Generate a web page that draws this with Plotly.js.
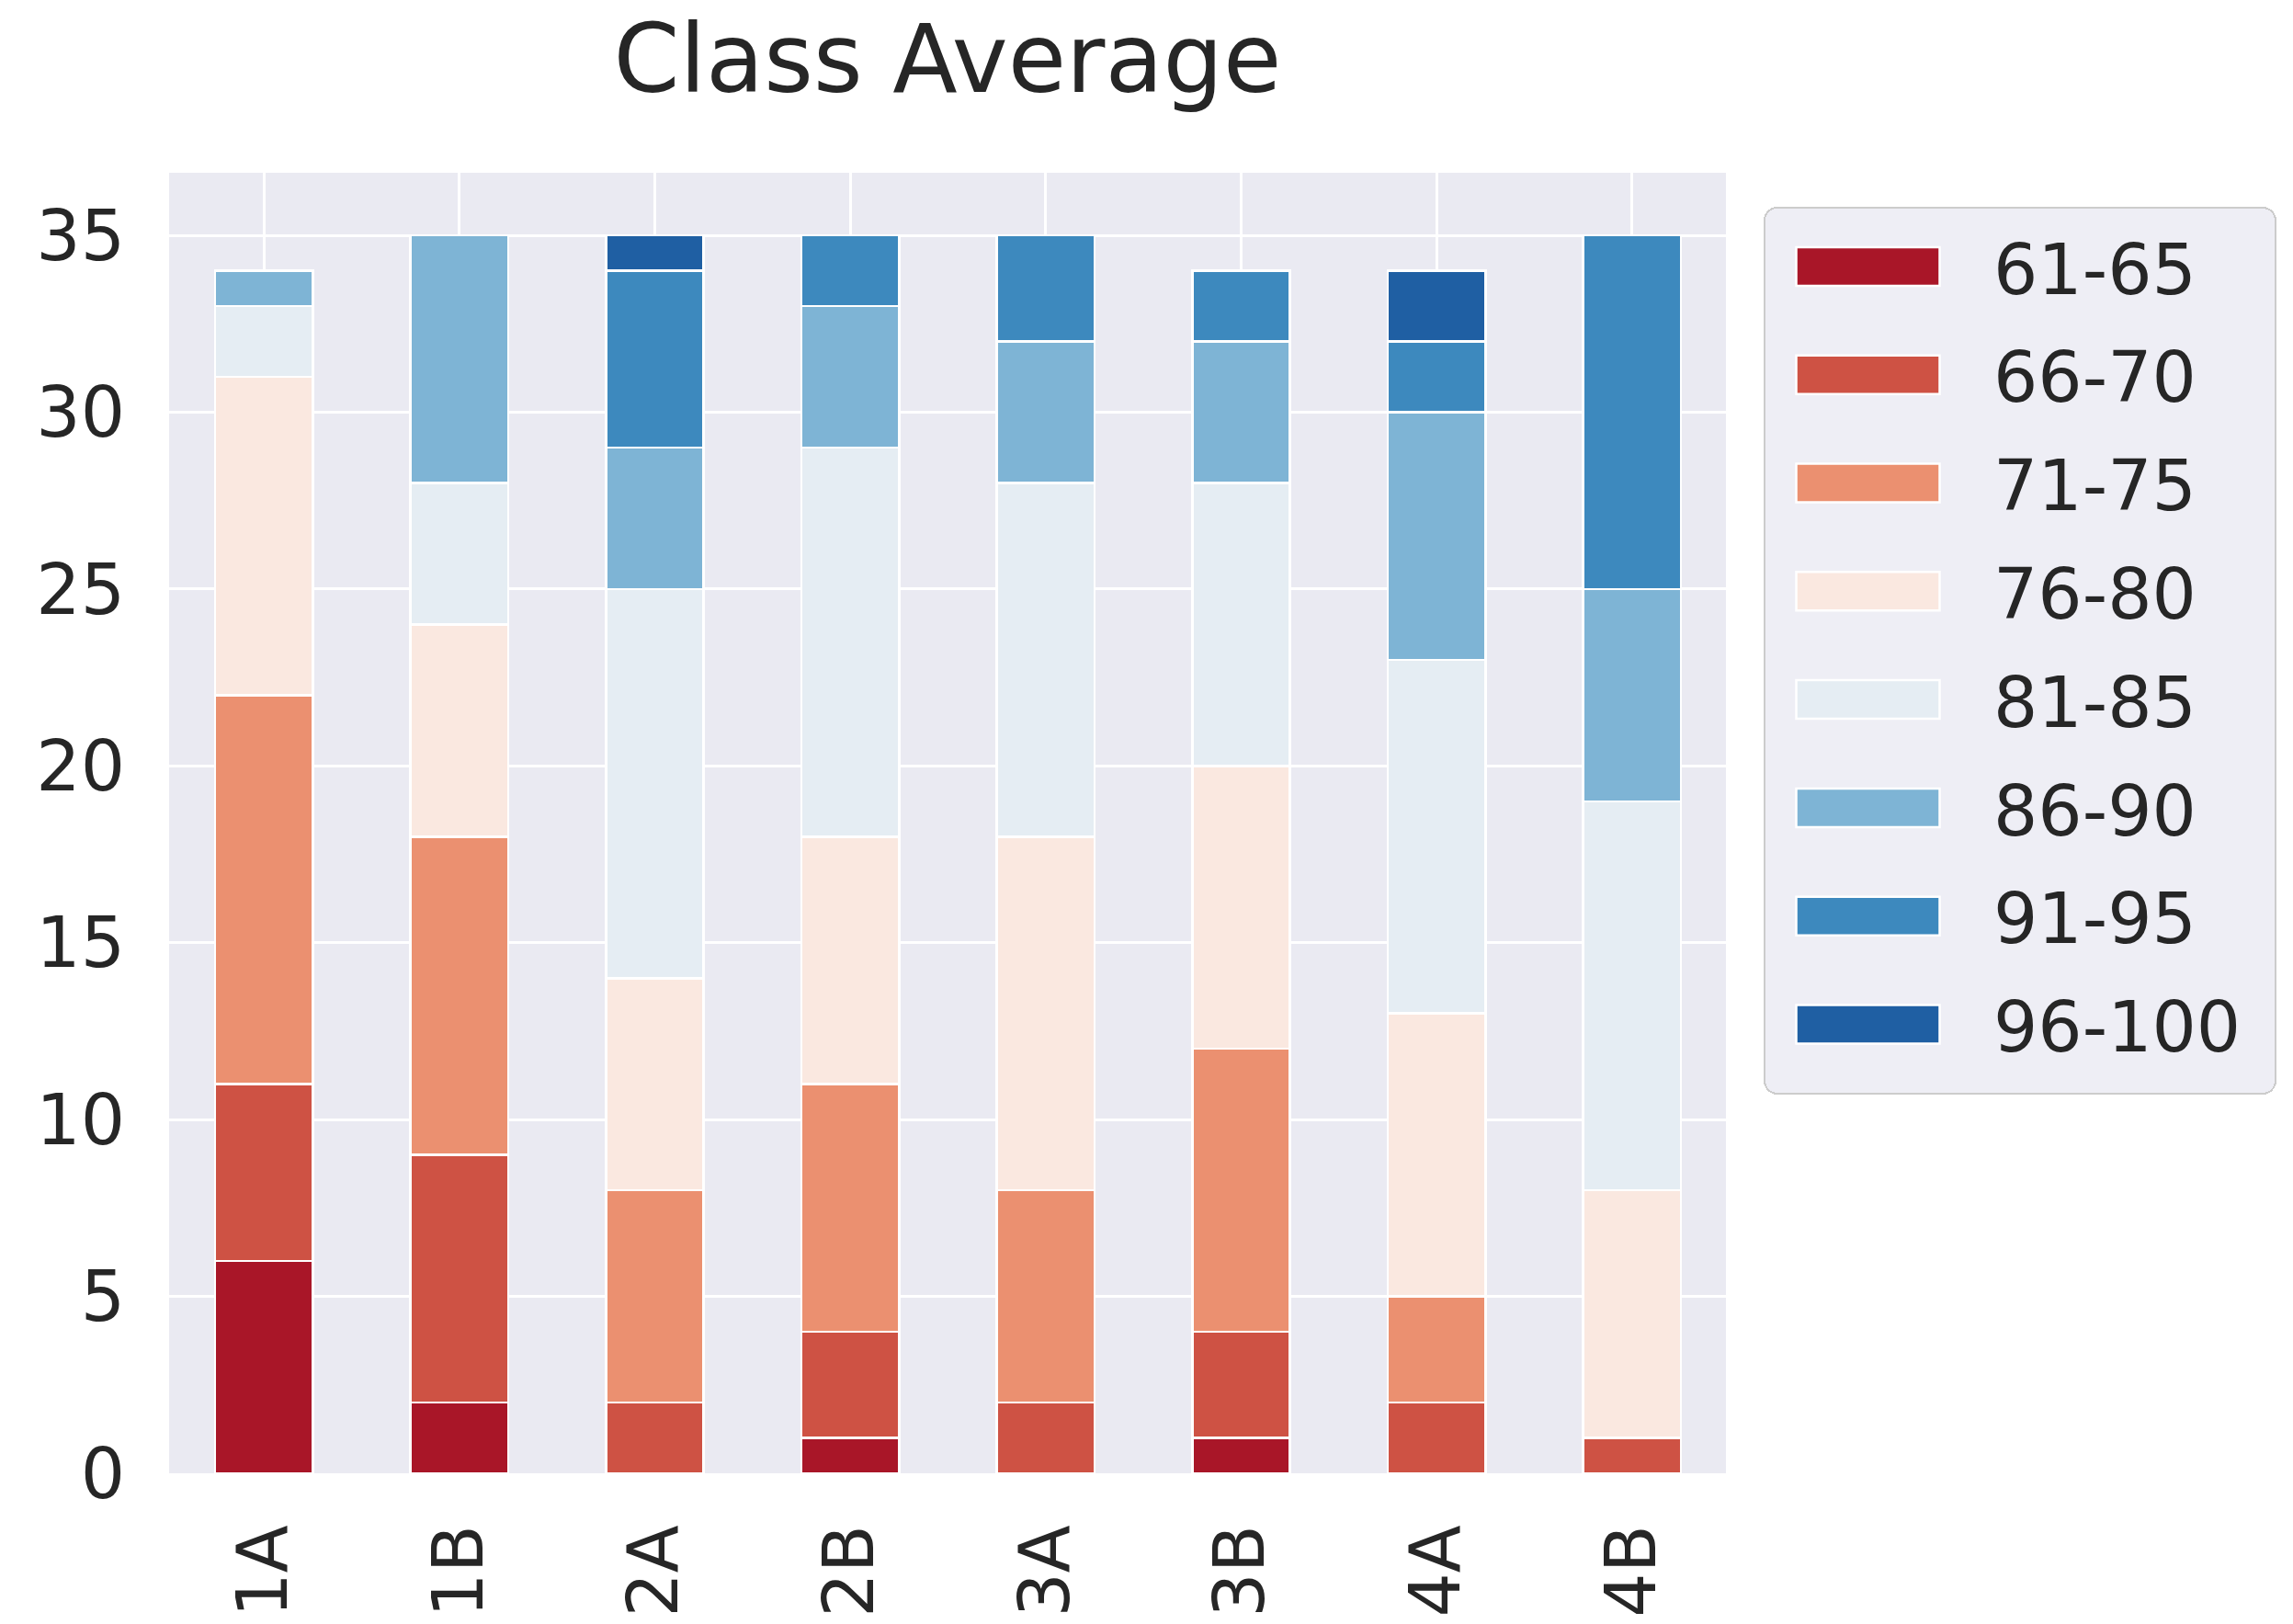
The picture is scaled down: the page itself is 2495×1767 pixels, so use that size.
<!DOCTYPE html>
<html>
<head>
<meta charset="utf-8">
<script src="https://cdn.plot.ly/plotly-3.0.1.min.js"></script>
<style>html,body{margin:0;padding:0;background:#fff;}</style>
</head>
<body>
<div id="chart" style="width:2495px;height:1767px;"></div>
<script>
const classes = ['1A','1B','2A','2B','3A','3B','4A','4B'];
const bands = ['61-65','66-70','71-75','76-80','81-85','86-90','91-95','96-100'];
const colors = ['#a91628','#ce5244','#eb9070','#fae8e0','#e5edf3','#7eb4d5','#3d89be','#1f5fa3'];
const s61_65  = [6, 2, 0, 1, 0, 1, 0, 0];
const s66_70  = [5, 7, 2, 3, 2, 3, 2, 1];
const s71_75  = [11, 9, 6, 7, 6, 8, 3, 0];
const s76_80  = [9, 6, 6, 7, 10, 8, 8, 7];
const s81_85  = [2, 4, 11, 11, 10, 8, 10, 11];
const s86_90  = [1, 7, 4, 4, 4, 4, 7, 6];
const s91_95  = [0, 0, 5, 2, 3, 2, 2, 10];
const s96_100 = [0, 0, 1, 0, 0, 0, 2, 0];
const yTicks = [0, 5, 10, 15, 20, 25, 30, 35];

const series = [s61_65, s66_70, s71_75, s76_80, s81_85, s86_90, s91_95, s96_100];
const txt = '#262626';
const traces = series.map((vals, i) => ({
  type: 'bar', x: classes, y: vals, name: bands[i], legendgroup: 'g' + i,
  marker: {color: colors[i], line: {color: '#ffffff', width: 2.5}},
  hoverinfo: 'x+y+name'
}));

const layout = {
  width: 2495, height: 1767,
  paper_bgcolor: '#ffffff', plot_bgcolor: '#eaeaf2',
  margin: {l: 184, r: 617, t: 188, b: 164, pad: 0},
  barmode: 'stack', bargap: 0.5,
  font: {family: 'DejaVu Sans', color: txt, size: 76},
  title: {text: 'Class Average', font: {family: 'DejaVu Sans', size: 103, color: txt},
          x: 0.4132, xanchor: 'center', y: 0.9638, yanchor: 'middle'},
  xaxis: {type: 'category', range: [-0.485, 7.48], tickangle: -90, showgrid: true,
          gridcolor: '#ffffff', gridwidth: 3, zeroline: false, showline: false, ticks: '',
          ticklabelstandoff: 40, tickfont: {size: 76, color: txt}},
  yaxis: {range: [0, 36.77], tickvals: yTicks, ticktext: yTicks.map(String), showgrid: true,
          gridcolor: '#ffffff', gridwidth: 3, zeroline: false, showline: false, ticks: '',
          ticklabelstandoff: 47, tickfont: {size: 76, color: txt}},
  legend: {x: 1.0248, xanchor: 'left', y: 0.9689, yanchor: 'top', traceorder: 'grouped',
           tracegroupgap: 16, bgcolor: 'rgba(234,234,242,0.8)', bordercolor: '#cccccc',
           borderwidth: 2, itemwidth: 237, font: {size: 76, color: txt}},
  showlegend: true
};

Plotly.newPlot('chart', traces, layout, {displayModeBar: false, staticPlot: true}).then(() => {
  document.querySelectorAll('.legend .legendpoints path').forEach(p => {
    p.setAttribute('d', 'M-91,-21H65V21H-91Z');
  });
  const lg = document.querySelector('.legend');
  if (lg) {
    const m = lg.getCTM();
    const r = lg.querySelector('rect.bg');
    if (r) {
      r.setAttribute('x', 1920 - m.e);
      r.setAttribute('y', 226 - m.f);
      r.setAttribute('width', 556);
      r.setAttribute('height', 964);
      r.setAttribute('rx', 14); r.setAttribute('ry', 14);
    }
  }
});
</script>
</body>
</html>
